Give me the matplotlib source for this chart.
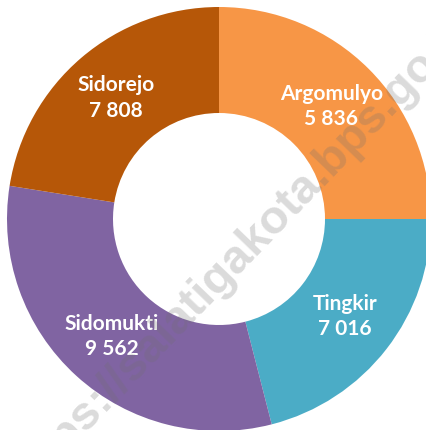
import matplotlib.pyplot as plt
import numpy as np

# Data
kecamatan = ["Argomulyo", "Tingkir", "Sidomukti", "Sidorejo"]
penduduk = [5836, 7016, 9562, 7808]          # numbers printed in the labels
porsi = [25.0, 21.0, 31.5, 22.5]             # slice sizes as drawn (percent of circle)
warna = ["#F79646", "#4BACC6", "#8064A2", "#B65708"]
watermark = "https://salatigakota.bps.go.id"

W, H = 426, 430
fig = plt.figure(figsize=(W / 100, H / 100), dpi=100)
ax = fig.add_axes([0, 0, 1, 1])

cx, cy, r_px = 219, 219, 212  # pie centre / radius in pixels
wedges, _ = ax.pie(porsi, colors=warna, startangle=90, counterclock=False,
                   radius=1, wedgeprops=dict(width=0.5, edgecolor="none"))

for w, nama, n in zip(wedges, kecamatan, penduduk):
    mid = np.deg2rad((w.theta1 + w.theta2) / 2)
    x, y = 0.75 * np.cos(mid), 0.75 * np.sin(mid)
    teks = f"{nama}\n{n:,}".replace(",", " ")
    ax.text(x, y, teks, ha="center", va="center", color="white",
            fontsize=15, fontweight="bold", family="Lato", linespacing=1.35)

ax.set_xlim(-cx / r_px, (W - cx) / r_px)
ax.set_ylim(-(H - cy) / r_px, cy / r_px)
ax.set_aspect("equal")
ax.axis("off")

# watermark, runs off the edges like in the original
fig.text(242 / W, 1 - 252 / H, watermark, rotation=46, ha="center", va="center",
         fontsize=34, fontweight="bold", color="#707070", alpha=0.25,
         family="Liberation Sans", rotation_mode="anchor")

plt.savefig("out.png", dpi=100)
plt.close()
